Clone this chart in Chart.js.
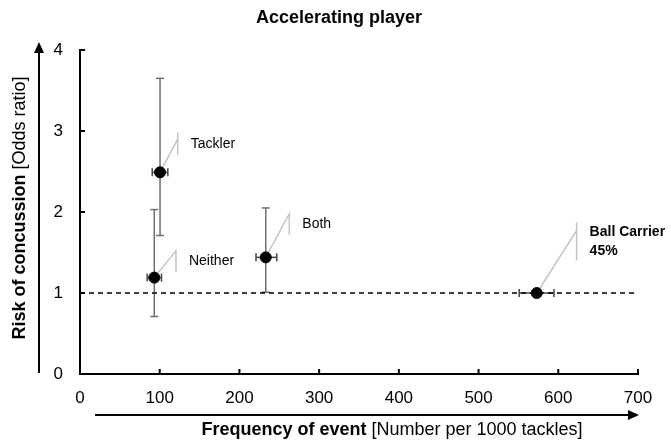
<!DOCTYPE html>
<html>
<head>
<meta charset="utf-8">
<script src="https://cdn.jsdelivr.net/npm/chart.js@4.4.1/dist/chart.umd.min.js"></script>
<style>
  body { margin: 0; background: #fff; }
  #wrap { width: 671px; height: 448px; }
</style>
</head>
<body>
<div id="wrap"><canvas id="riskChart"></canvas></div>
<script>
// Data
const groups = ['Tackler', 'Neither', 'Both', 'Ball Carrier'];
const groupLabels = [['Tackler'], ['Neither'], ['Both'], ['Ball Carrier', '45%']];
const boldLabel = [false, false, false, true];

// frequency per 1000 tackles, with its interval
const freq = [100.4, 93.2, 233, 573];
const freqLow = [90.6, 84.2, 220.8, 551];
const freqHigh = [110.2, 102.2, 246.8, 594.6];

// odds ratio of concussion, with 95% CI (ball carrier is the reference)
const oddsRatio = [2.49, 1.19, 1.44, 1.0];
const oddsLow = [1.71, 0.71, 1.01, 1.0];
const oddsHigh = [3.65, 2.03, 2.05, 1.0];

// label leader lines (data units)
const leaderX = [122.6, 120.4, 262.6, 623];
const leaderJoin = [2.90, 1.52, 1.98, 1.77];
const leaderTop = [2.98, 1.53, 1.98, 1.87];
const leaderBottom = [2.70, 1.26, 1.72, 1.40];

const xTicks = [0, 100, 200, 300, 400, 500, 600, 700];
const yTicks = [0, 1, 2, 3, 4];
const refLine = [1, 1];

const FONT = '"Liberation Sans", Arial, sans-serif';

function seg(ctx, x1, y1, x2, y2) {
    ctx.beginPath();
    ctx.moveTo(x1, y1);
    ctx.lineTo(x2, y2);
    ctx.stroke();
}

// mixed bold / regular text, centred on (0,0) of the current transform
function mixedText(ctx, boldPart, regPart, size) {
    ctx.font = `bold ${size}px ${FONT}`;
    const wb = ctx.measureText(boldPart).width;
    ctx.font = `${size}px ${FONT}`;
    const wr = ctx.measureText(regPart).width;
    let start = -(wb + wr) / 2;
    ctx.textAlign = 'left';
    ctx.textBaseline = 'alphabetic';
    ctx.font = `bold ${size}px ${FONT}`;
    ctx.fillText(boldPart, start, 0);
    ctx.font = `${size}px ${FONT}`;
    ctx.fillText(regPart, start + wb, 0);
}

const decor = {
    id: 'decor',
    beforeDatasetsDraw(chart) {
        const { ctx, scales: { x, y } } = chart;
        ctx.save();
        // vertical CI bars
        ctx.strokeStyle = '#6e6e6e';
        ctx.lineWidth = 1.5;
        groups.forEach((g, i) => {
            if (oddsHigh[i] === oddsLow[i]) return;
            const px = x.getPixelForValue(freq[i]);
            const top = y.getPixelForValue(oddsHigh[i]);
            const bot = y.getPixelForValue(oddsLow[i]);
            seg(ctx, px, top, px, bot);
            seg(ctx, px - 4, top, px + 4, top);
            seg(ctx, px - 4, bot, px + 4, bot);
        });
        // horizontal bars
        ctx.strokeStyle = '#444';
        groups.forEach((g, i) => {
            const py = y.getPixelForValue(oddsRatio[i]);
            const l = x.getPixelForValue(freqLow[i]);
            const r = x.getPixelForValue(freqHigh[i]);
            seg(ctx, l, py, r, py);
            seg(ctx, l, py - 4, l, py + 4);
            seg(ctx, r, py - 4, r, py + 4);
        });
        ctx.restore();
    },
    afterDraw(chart) {
        const { ctx, chartArea: area, scales: { x, y } } = chart;
        ctx.save();
        ctx.fillStyle = '#000';
        ctx.strokeStyle = '#000';

        // inward ticks
        ctx.lineWidth = 2;
        yTicks.forEach(v => {
            const py = y.getPixelForValue(v);
            seg(ctx, area.left, py, area.left + 5, py);
        });
        xTicks.forEach(v => {
            const px = x.getPixelForValue(v);
            seg(ctx, px, area.bottom, px, area.bottom - 5);
        });

        // point labels
        groups.forEach((g, i) => {
            const lx = x.getPixelForValue(leaderX[i]) + 13;
            const mid = (y.getPixelForValue(leaderTop[i]) + y.getPixelForValue(leaderBottom[i])) / 2;
            const lines = groupLabels[i];
            ctx.font = `${boldLabel[i] ? 'bold ' : ''}14px ${FONT}`;
            ctx.textAlign = 'left';
            ctx.textBaseline = 'middle';
            lines.forEach((t, k) => {
                ctx.fillText(t, lx, mid + (k - (lines.length - 1) / 2) * 18.5);
            });
        });

        // title
        ctx.font = `bold 18px ${FONT}`;
        ctx.textAlign = 'center';
        ctx.textBaseline = 'alphabetic';
        ctx.fillText('Accelerating player', 339, 23);

        // y arrow + title
        ctx.lineWidth = 2;
        const ax = area.left - 41;
        seg(ctx, ax, area.bottom - 1, ax, area.top - 2);
        ctx.beginPath();
        ctx.moveTo(ax, area.top - 8);
        ctx.lineTo(ax - 5, area.top + 3);
        ctx.lineTo(ax + 5, area.top + 3);
        ctx.closePath();
        ctx.fill();

        ctx.save();
        ctx.translate(25, 208);
        ctx.rotate(-Math.PI / 2);
        mixedText(ctx, 'Risk of concussion ', '[Odds ratio]', 18);
        ctx.restore();

        // x arrow + title
        const ay = area.bottom + 41;
        seg(ctx, 95, ay, area.right - 8, ay);
        ctx.beginPath();
        ctx.moveTo(area.right + 1, ay);
        ctx.lineTo(area.right - 10, ay - 5);
        ctx.lineTo(area.right - 10, ay + 5);
        ctx.closePath();
        ctx.fill();

        ctx.save();
        ctx.translate(392, 435);
        mixedText(ctx, 'Frequency of event ', '[Number per 1000 tackles]', 18);
        ctx.restore();

        ctx.restore();
    }
};

const leaderSets = groups.map((g, i) => ({
    type: 'line',
    label: g + ' label',
    data: [
        { x: freq[i], y: oddsRatio[i] },
        { x: leaderX[i], y: leaderJoin[i] },
        { x: leaderX[i], y: leaderTop[i] },
        { x: leaderX[i], y: leaderBottom[i] }
    ],
    borderColor: '#c4c4c4',
    borderWidth: 1.5,
    pointRadius: 0,
    fill: false,
    tension: 0
}));

const ctx = document.getElementById('riskChart').getContext('2d');
const riskChart = new Chart(ctx, {
    type: 'scatter',
    data: {
        datasets: [
            {
                label: 'Odds ratio',
                data: groups.map((g, i) => ({ x: freq[i], y: oddsRatio[i] })),
                backgroundColor: '#000',
                borderColor: '#000',
                pointRadius: 5.5,
                pointHoverRadius: 5.5
            },
            ...leaderSets,
            {
                type: 'line',
                label: 'Reference',
                data: refLine.map((v, k) => ({ x: k === 0 ? xTicks[0] : xTicks[xTicks.length - 1], y: v })),
                borderColor: '#000',
                borderWidth: 1.3,
                borderDash: [5, 4],
                pointRadius: 0,
                fill: false
            }
        ]
    },
    options: {
        responsive: true,
        maintainAspectRatio: false,
        animation: false,
        layout: { padding: { top: 50, right: 33, left: 0, bottom: 0 } },
        plugins: {
            legend: { display: false },
            tooltip: { enabled: false },
            title: { display: false }
        },
        scales: {
            x: {
                type: 'linear',
                min: 0,
                max: 700,
                afterBuildTicks: s => { s.ticks = xTicks.map(v => ({ value: v })); },
                afterFit: s => { s.height = 74; },
                grid: { display: false, drawTicks: false },
                border: { display: true, color: '#000', width: 2 },
                ticks: { padding: 14, color: '#000', font: { family: FONT, size: 17 }, maxRotation: 0 }
            },
            y: {
                type: 'linear',
                min: 0,
                max: 4,
                afterBuildTicks: s => { s.ticks = yTicks.map(v => ({ value: v })); },
                afterFit: s => { s.width = 80; },
                grid: { display: false, drawTicks: false },
                border: { display: true, color: '#000', width: 2 },
                ticks: { padding: 17, color: '#000', font: { family: FONT, size: 17 } }
            }
        }
    },
    plugins: [decor]
});
</script>
</body>
</html>
